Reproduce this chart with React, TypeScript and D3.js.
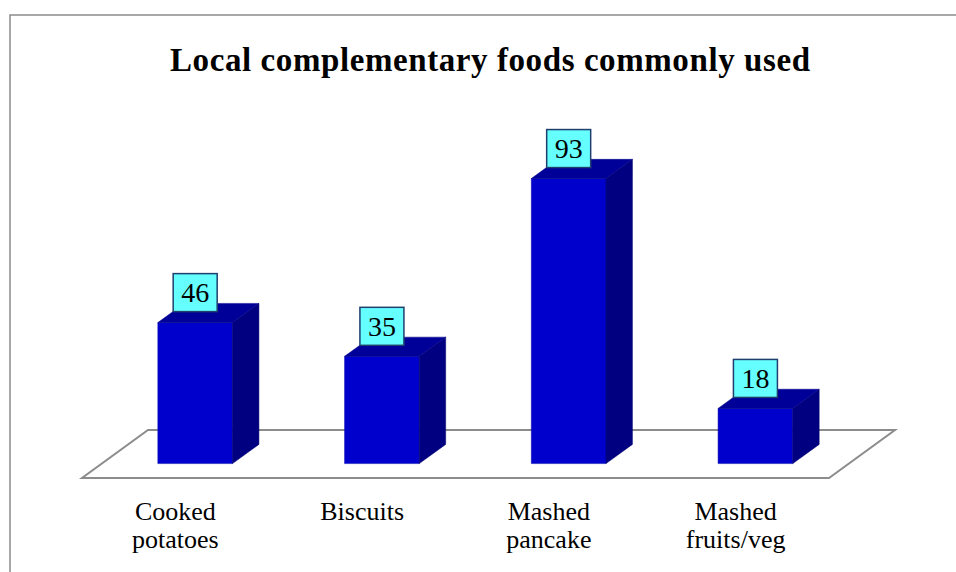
import React from 'react';
import * as d3 from 'd3';

const categories = ['Cooked potatoes', 'Biscuits', 'Mashed pancake', 'Mashed fruits/veg'];
const categoryLines = [['Cooked', 'potatoes'], ['Biscuits'], ['Mashed', 'pancake'], ['Mashed', 'fruits/veg']];
const values = [46, 35, 93, 18];
const title = 'Local complementary foods commonly used';

const W = 956;
const H = 572;
const SERIF = 'Liberation Serif, DejaVu Serif, serif';

// floor plane (front edge + depth vector)
const floorFrontY = 478;
const depthDX = 66;
const depthDY = -48;
const barZ0 = 0.3;
const barZ1 = 0.7;

export default function App() {
    const x = d3.scaleBand<string>().domain(categories).range([82, 829]).paddingInner(0).paddingOuter(0);
    const h = d3.scaleLinear().domain([0, 100]).range([0, 306.5]);
    const barW = x.bandwidth() * 0.4;

    const proj = (px: number, z: number, ph: number): [number, number] =>
        [px + depthDX * z, floorFrontY + depthDY * z - ph];
    const pts = (arr: [number, number][]) => arr.map(p => p.join(',')).join(' ');

    const floor = pts([
        proj(x.range()[0], 0, 0),
        proj(x.range()[1], 0, 0),
        proj(x.range()[1], 1, 0),
        proj(x.range()[0], 1, 0),
    ]);

    return (
        <div style={{ position: 'fixed', left: 0, top: 0 }}>
            <svg width={W} height={H} style={{ display: 'block', background: '#fff' }}>
                {/* frame */}
                <rect x={10} y={15} width={W + 20} height={H + 20} fill="none" stroke="#8c8c8c" strokeWidth={1.5} />

                <text x={490} y={71} textAnchor="middle" fontFamily={SERIF}
                      fontWeight="bold" fontSize={33} textLength={640} lengthAdjust="spacing" fill="#000">{title}</text>

                <polygon points={floor} fill="#fff" stroke="#8c8c8c" strokeWidth={2} />

                {categories.map((c, i) => {
                    const x0 = (x(c) as number) + (x.bandwidth() - barW) / 2;
                    const x1 = x0 + barW;
                    const bh = h(values[i]);
                    const front = pts([proj(x0, barZ0, 0), proj(x1, barZ0, 0), proj(x1, barZ0, bh), proj(x0, barZ0, bh)]);
                    const side = pts([proj(x1, barZ0, 0), proj(x1, barZ1, 0), proj(x1, barZ1, bh), proj(x1, barZ0, bh)]);
                    const top = pts([proj(x0, barZ0, bh), proj(x1, barZ0, bh), proj(x1, barZ1, bh), proj(x0, barZ1, bh)]);
                    const [fx, fy] = proj((x0 + x1) / 2, barZ0, bh);
                    const bw = 44, bhgt = 38;
                    return (
                        <g key={c}>
                            <polygon points={front} fill="#0000cc" stroke="#0000b0" strokeWidth={0.5} />
                            <polygon points={side} fill="#000080" stroke="#000070" strokeWidth={0.5} />
                            <polygon points={top} fill="#000099" stroke="#000088" strokeWidth={0.5} />
                            <rect x={fx - bw / 2} y={fy - 11 - bhgt} width={bw} height={bhgt}
                                  fill="#66ffff" stroke="#1f3f6f" strokeWidth={1.5} />
                            <text x={fx} y={fy - 11 - bhgt / 2 + 9.5} textAnchor="middle"
                                  fontFamily={SERIF} fontSize={28} fill="#000">{values[i]}</text>
                        </g>
                    );
                })}

                {categories.map((c, i) => {
                    const cx = (x(c) as number) + x.bandwidth() / 2;
                    return (
                        <text key={c} x={cx} y={520} textAnchor="middle"
                              fontFamily={SERIF} fontSize={26} fill="#000">
                            {categoryLines[i].map((l, j) => (
                                <tspan key={j} x={cx} dy={j === 0 ? 0 : 28}>{l}</tspan>
                            ))}
                        </text>
                    );
                })}
            </svg>
        </div>
    );
}
